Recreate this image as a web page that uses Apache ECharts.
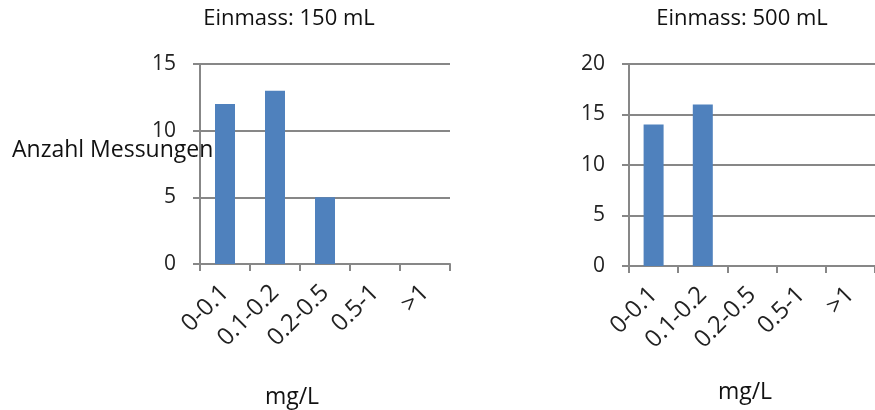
<!DOCTYPE html>
<html><head><meta charset="utf-8">
<script src="https://cdn.jsdelivr.net/npm/echarts@6/dist/echarts.min.js"></script>
<style>html,body{margin:0;padding:0;background:#fff}#c{width:875px;height:410px}</style>
</head><body><div id="c"></div>
<script>
const categories = ['0-0.1', '0.1-0.2', '0.2-0.5', '0.5-1', '>1'];
const values150 = [12, 13, 5, 0, 0];
const values500 = [14, 16, 0, 0, 0];
const titles = ['Einmass: 150 mL', 'Einmass: 500 mL'];
const yMax = [15, 20];
const yTicks = 5;

const FONT = 'Open Sans';
const gridColor = '#878787';
const chart = echarts.init(document.getElementById('c'), null, {renderer: 'canvas'});
function xAxis(i) {
  return {
    type: 'category', gridIndex: i, data: categories,
    axisLine: {lineStyle: {color: gridColor, width: 2}},
    axisTick: {show: true, length: 7, lineStyle: {color: gridColor, width: 2}, alignWithLabel: false},
    axisLabel: {rotate: 45, fontFamily: FONT, fontSize: 24, color: '#222', margin: 25, interval: 0}
  };
}
function yAxis(i) {
  return {
    type: 'value', gridIndex: i, min: 0, max: yMax[i], interval: yTicks,
    axisLine: {show: true, lineStyle: {color: gridColor, width: 2}},
    axisTick: {show: true, length: 7, lineStyle: {color: gridColor, width: 2}},
    axisLabel: {fontFamily: FONT, fontSize: 21, color: '#222', margin: 24},
    splitLine: {lineStyle: {color: gridColor, width: 2}}
  };
}
const ts = {fontFamily: FONT, fontSize: 22, fontWeight: 'normal', color: '#111'};
chart.setOption({
  animation: false,
  title: [
    {text: titles[0], left: 284, top: 3, textAlign: 'center', textStyle: ts},
    {text: titles[1], left: 737, top: 3, textAlign: 'center', textStyle: ts},
    {text: 'Anzahl Messungen', left: 7, top: 134, textStyle: Object.assign({}, ts, {fontSize: 23})},
    {text: 'mg/L', left: 287, top: 381, textAlign: 'center', textStyle: Object.assign({}, ts, {fontSize: 23})},
    {text: 'mg/L', left: 740, top: 376, textAlign: 'center', textStyle: Object.assign({}, ts, {fontSize: 23})}
  ],
  grid: [
    {left: 200, top: 64, width: 250, height: 200},
    {left: 629, top: 64, width: 250, height: 202}
  ],
  xAxis: [xAxis(0), xAxis(1)],
  yAxis: [yAxis(0), yAxis(1)],
  series: [
    {type: 'bar', xAxisIndex: 0, yAxisIndex: 0, data: values150, barWidth: 20, itemStyle: {color: '#4F81BD'}},
    {type: 'bar', xAxisIndex: 1, yAxisIndex: 1, data: values500, barWidth: 20, itemStyle: {color: '#4F81BD'}}
  ]
});
</script></body></html>
